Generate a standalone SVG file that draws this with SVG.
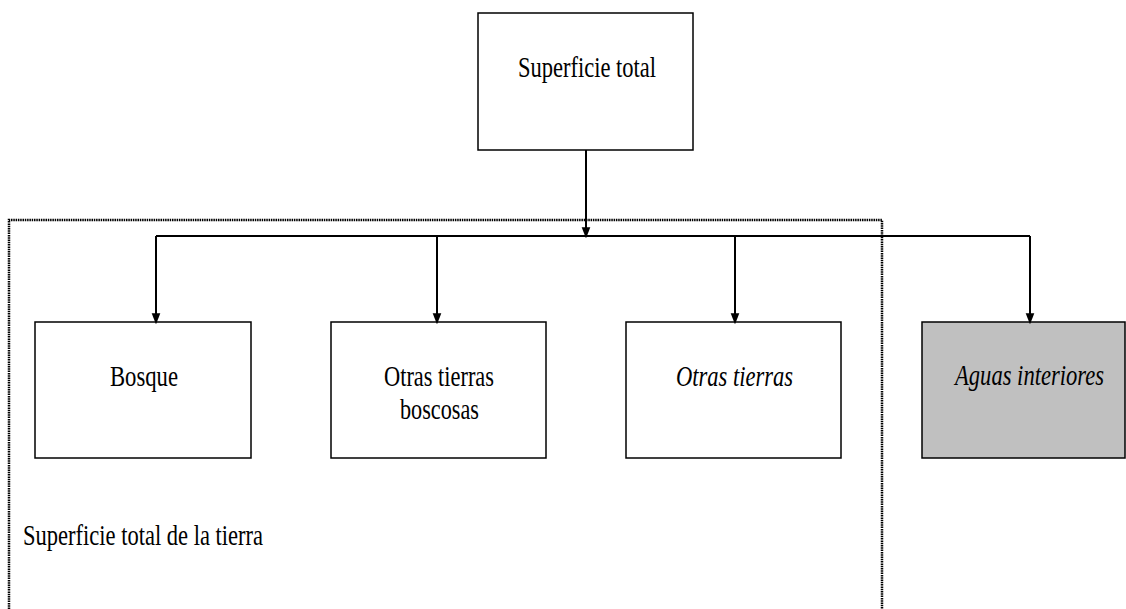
<svg xmlns="http://www.w3.org/2000/svg" width="1126" height="609" viewBox="0 0 1126 609">
<style>
.box{fill:#fff;stroke:#000;stroke-width:1.5}
.grey{fill:#c0c0c0}
.t{font-family:"Liberation Serif","Times New Roman",serif;font-size:30px;fill:#000}
.i{font-style:italic}
.c{fill:none;stroke:#000;stroke-width:2}
.dot{fill:none;stroke:#000;stroke-width:2.5;stroke-dasharray:1.5,0.8}
</style>
<defs>
<marker id="ah" markerWidth="11" markerHeight="14" refX="11" refY="5.5" orient="auto" markerUnits="userSpaceOnUse" viewBox="0 0 14 11">
<path d="M0,0 L14,5.5 L0,11 Z" fill="#000"/>
</marker>
</defs>
<rect width="1126" height="609" fill="#fff"/>
<g id="land-area">
<path class="dot" d="M9,609 L9,220 L882,220 L882,609"/>
<text class="t" x="23" y="545" textLength="240" lengthAdjust="spacingAndGlyphs">Superficie total de la tierra</text>
</g>
<g id="total">
<rect class="box" x="478" y="13" width="215" height="137"/>
<text class="t" x="518" y="77" textLength="138" lengthAdjust="spacingAndGlyphs">Superficie total</text>
</g>
<g id="bosque">
<rect class="box" x="35" y="322" width="216" height="136"/>
<text class="t" x="110" y="386" textLength="68" lengthAdjust="spacingAndGlyphs">Bosque</text>
</g>
<g id="otb">
<rect class="box" x="331" y="322" width="215" height="136"/>
<text class="t" x="384" y="386" textLength="110" lengthAdjust="spacingAndGlyphs">Otras tierras</text>
<text class="t" x="400" y="419" textLength="79" lengthAdjust="spacingAndGlyphs">boscosas</text>
</g>
<g id="ot">
<rect class="box" x="626" y="322" width="215" height="136"/>
<text class="t i" x="676" y="386" textLength="117" lengthAdjust="spacingAndGlyphs">Otras tierras</text>
</g>
<g id="aguas">
<rect class="box grey" x="922" y="322" width="203" height="136"/>
<text class="t i" x="0" y="0" transform="translate(955,385) scale(0.753,1)">Aguas interiores</text>
</g>
<g id="connectors">
<line class="c" x1="586" y1="150" x2="586" y2="236" marker-end="url(#ah)"/>
<line class="c" x1="156" y1="236" x2="1030" y2="236"/>
<line class="c" x1="156" y1="236" x2="156" y2="322" marker-end="url(#ah)"/>
<line class="c" x1="437" y1="236" x2="437" y2="322" marker-end="url(#ah)"/>
<line class="c" x1="735" y1="236" x2="735" y2="322" marker-end="url(#ah)"/>
<line class="c" x1="1030" y1="236" x2="1030" y2="322" marker-end="url(#ah)"/>
</g>
</svg>
